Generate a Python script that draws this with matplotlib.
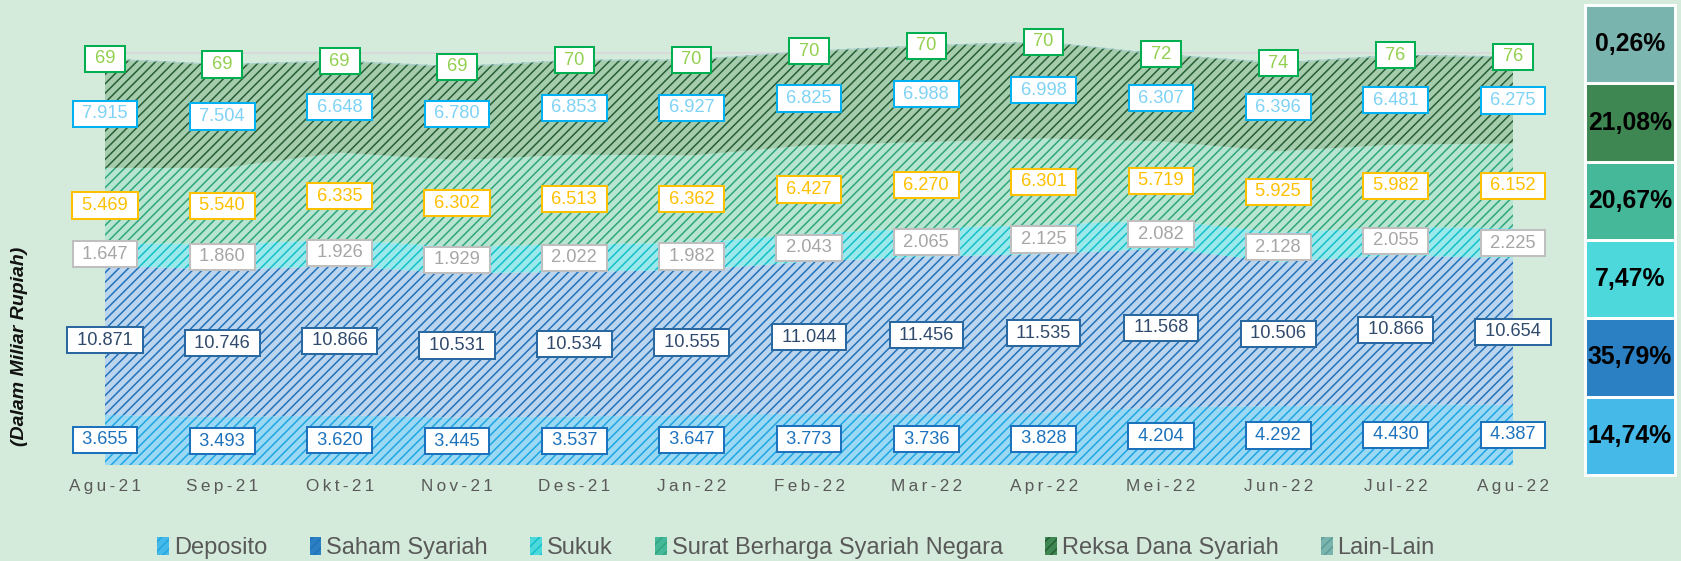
import matplotlib
matplotlib.use('Agg')
import matplotlib.pyplot as plt
from matplotlib.patches import Patch
import numpy as np

# data (Miliar Rupiah)
months = ['Agu-21', 'Sep-21', 'Okt-21', 'Nov-21', 'Des-21', 'Jan-22', 'Feb-22',
          'Mar-22', 'Apr-22', 'Mei-22', 'Jun-22', 'Jul-22', 'Agu-22']
deposito = [3655, 3493, 3620, 3445, 3537, 3647, 3773, 3736, 3828, 4204, 4292, 4430, 4387]
saham = [10871, 10746, 10866, 10531, 10534, 10555, 11044, 11456, 11535, 11568, 10506, 10866, 10654]
sukuk = [1647, 1860, 1926, 1929, 2022, 1982, 2043, 2065, 2125, 2082, 2128, 2055, 2225]
sbsn = [5469, 5540, 6335, 6302, 6513, 6362, 6427, 6270, 6301, 5719, 5925, 5982, 6152]
reksa = [7915, 7504, 6648, 6780, 6853, 6927, 6825, 6988, 6998, 6307, 6396, 6481, 6275]
lain = [69, 69, 69, 69, 70, 70, 70, 70, 70, 72, 74, 76, 76]
names = ['Deposito', 'Saham Syariah', 'Sukuk', 'Surat Berharga Syariah Negara',
         'Reksa Dana Syariah', 'Lain-Lain']
pct_labels = ['14,74%', '35,79%', '7,47%', '20,67%', '21,08%', '0,26%']

# styles
bg = '#D4EADA'
fill_cols = ['#9AD8F3', '#BCD5EE', '#9CE9EC', '#B8E5D2', '#A6CCAE', '#A9CFCB']
hatch_cols = ['#1FA6E3', '#2272BA', '#14C0CA', '#2EA67E', '#275F35', '#5E9C96']
lab_edge = ['#1C72BD', '#2A68A2', '#BFBFBF', '#FFC000', '#00B0F0', '#00B050']
lab_text = ['#1C72BD', '#2F4A6C', '#A6A6A6', '#FFC000', '#7ED2F5', '#92D050']
pct_cols = ['#45B9E8', '#2A80C2', '#4DD9DC', '#45B899', '#3E8752', '#7AB4AE']

DPI = 85
plt.rcParams['font.family'] = ['Liberation Sans', 'DejaVu Sans']
plt.rcParams['hatch.linewidth'] = 1.3

fig = plt.figure(figsize=(1681 / DPI, 561 / DPI), dpi=DPI)
fig.patch.set_facecolor(bg)

ax = fig.add_axes([105 / 1681, 96 / 561, 1408 / 1681, 453 / 561])
ax.patch.set_alpha(0)

x = np.arange(len(months))
series = [deposito, saham, sukuk, sbsn, reksa, lain]


def fmt(v):
    return f"{v:,}".replace(',', '.')


ax.axhline(30000, color='#D9D9D9', lw=1.5, zorder=1)
ax.axhline(0, color='#D9D9D9', lw=1.5, zorder=1)

bottom = np.zeros(len(months))
for i, vals in enumerate(series):
    vals = np.array(vals, dtype=float)
    top = bottom + vals
    ax.fill_between(x, bottom, top, facecolor=fill_cols[i], edgecolor=hatch_cols[i],
                    hatch='///', lw=0, zorder=2)
    mid = bottom + vals / 2
    for xi, yi, v in zip(x, mid, vals):
        ax.text(xi, yi, ' ' + fmt(int(v)) + ' ', ha='center', va='center',
                fontsize=15.5, color=lab_text[i], zorder=5, clip_on=False,
                bbox=dict(boxstyle='square,pad=0.25', fc='white', ec=lab_edge[i], lw=1.7))
    bottom = top

ax.set_xlim(0, len(months) - 1)
ax.set_ylim(0, 33000)
ax.set_xticks(x)
ax.set_xticklabels(['\u2009'.join(m) for m in months])
ax.tick_params(axis='x', length=0, pad=12, labelsize=14.5, labelcolor='#595959')
ax.set_yticks([])
for s in ax.spines.values():
    s.set_visible(False)

fig.text(20 / 1681, 1 - 346 / 561, '(Dalam Miliar Rupiah)', rotation=90,
         fontsize=16.5, fontweight='bold', fontstyle='italic', ha='center', va='center',
         color='#111111')

# percentage column on the right
pax = fig.add_axes([1585 / 1681, 86 / 561, 90 / 1681, 470 / 561])
pax.axis('off')
for i, (lab, c) in enumerate(zip(pct_labels, pct_cols)):
    pax.bar(0, 1, bottom=i, width=1, color=c, edgecolor='white', lw=2.5, clip_on=False)
    pax.text(0, i + 0.5, lab, ha='center', va='center', fontsize=21,
             fontweight='bold', color='black')
pax.set_xlim(-0.5, 0.5)
pax.set_ylim(0, len(pct_labels))

handles = [Patch(facecolor=pct_cols[i], edgecolor=hatch_cols[i], hatch='///', lw=0)
           for i in range(len(names))]
fig.legend(handles, names, loc='center', bbox_to_anchor=(796 / 1681, 13 / 561), ncol=6,
           frameon=False, fontsize=20, handlelength=0.5, handleheight=0.8,
           handletextpad=0.2, columnspacing=1.8, labelcolor='#595959')

fig.savefig('out.png', dpi=DPI, facecolor=bg)
